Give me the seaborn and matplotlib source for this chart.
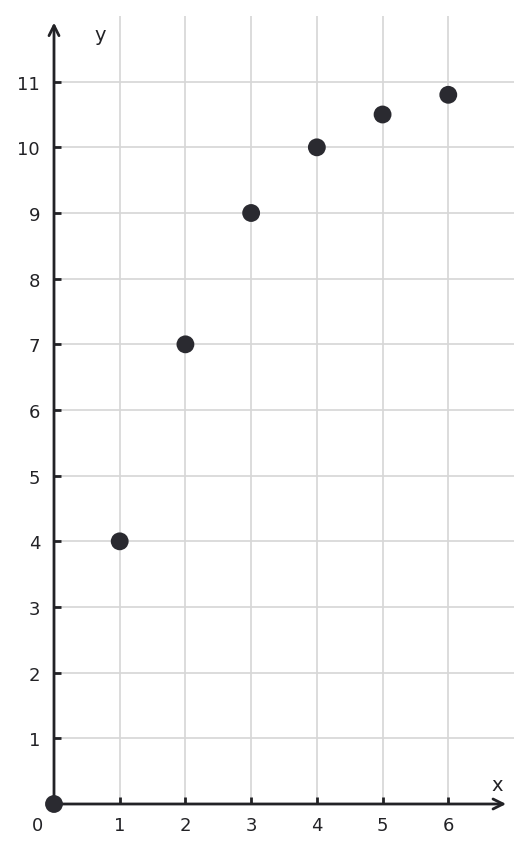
import matplotlib
matplotlib.use("Agg")
import matplotlib.pyplot as plt
import seaborn as sns
import pandas as pd

# data
x_vals = [0, 1, 2, 3, 4, 5, 6]
y_vals = [0, 4, 7, 9, 10, 10.5, 10.8]
x_ticks = [1, 2, 3, 4, 5, 6]
y_ticks = [1, 2, 3, 4, 5, 6, 7, 8, 9, 10, 11]

df = pd.DataFrame({"x": x_vals, "y": y_vals})

sns.set_style("white")
plt.rcParams["font.family"] = ["DejaVu Sans"]

dark = "#222226"
fig = plt.figure(figsize=(5.32, 8.54), dpi=100)
ax = fig.add_axes([54 / 532, 49 / 854, 460 / 532, 788 / 854])

ax.set_xlim(0, 7)
ax.set_ylim(0, 12)

# grid
for t in x_ticks:
    ax.axvline(t, color="#d6d6d6", lw=1.2, zorder=0)
for t in y_ticks:
    ax.axhline(t, color="#d6d6d6", lw=1.2, zorder=0)

sns.scatterplot(data=df, x="x", y="y", ax=ax, s=165, color="#2a2a30",
                edgecolor="none", zorder=5, clip_on=False)

for s in ax.spines.values():
    s.set_visible(False)

# axes with arrows
ax.annotate("", xy=(6.88, 0), xytext=(0, 0),
            arrowprops=dict(arrowstyle="->", color=dark, lw=2.0,
                            mutation_scale=18, shrinkA=0, shrinkB=0),
            annotation_clip=False, zorder=4)
ax.annotate("", xy=(0, 11.9), xytext=(0, 0),
            arrowprops=dict(arrowstyle="->", color=dark, lw=2.0,
                            mutation_scale=18, shrinkA=0, shrinkB=0),
            annotation_clip=False, zorder=4)

ax.set_xticks(x_ticks)
ax.set_yticks(y_ticks)
ax.set_xticklabels([str(t) for t in x_ticks])
ax.set_yticklabels([str(t) for t in y_ticks])
ax.tick_params(axis="both", direction="in", length=5, width=2, color=dark,
               labelsize=13, labelcolor=dark, pad=9, bottom=True, left=True)
ax.tick_params(axis="y", pad=10)
ax.set_xlabel("")
ax.set_ylabel("")

ax.text(-0.25, -0.32, "0", fontsize=13, color=dark, ha="center", va="center")
ax.text(6.75, 0.29, "x", fontsize=14, color=dark, ha="center", va="center")
ax.text(0.7, 11.72, "y", fontsize=14, color=dark, ha="center", va="center")

fig.savefig("out.png", dpi=100)
